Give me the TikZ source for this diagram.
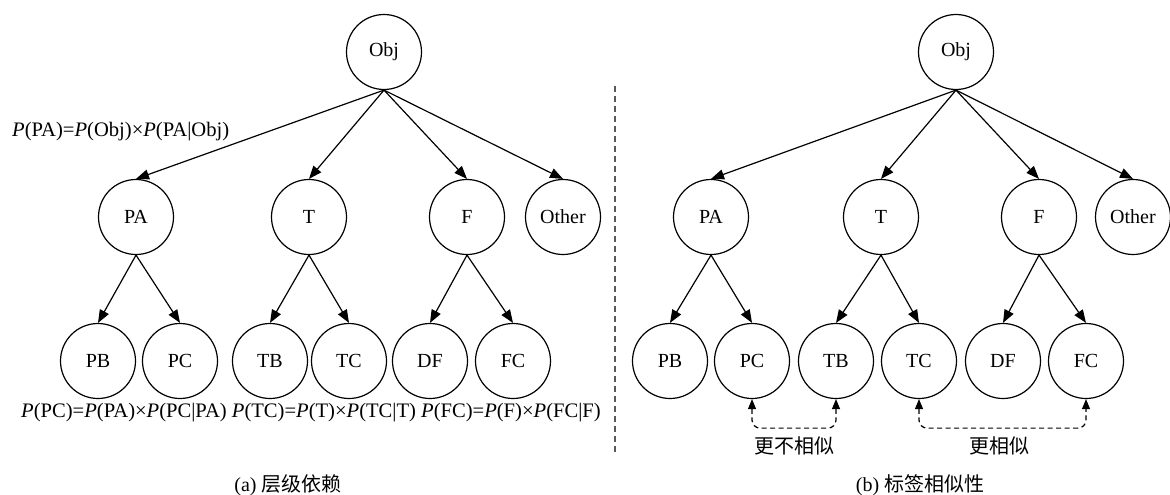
\documentclass[tikz,border=0pt]{standalone}
\usepackage{fontspec}
\setmainfont{Liberation Serif}
\newfontfamily\cjk{Noto Sans CJK SC}
\usetikzlibrary{arrows.meta}
\begin{document}
\begin{tikzpicture}[x=1pt,y=-1pt,
  nd/.style={circle,draw,line width=1.2pt,minimum size=75pt,inner sep=0pt,font=\fontsize{20}{24}\selectfont},
  edge/.style={line width=1.2pt,-{Triangle[length=13pt,width=10pt]}},
  sim/.style={line width=1.2pt,dash pattern=on 5pt off 3.5pt,rounded corners=8pt,{Triangle[length=10pt,width=8pt]}-{Triangle[length=10pt,width=8pt]}},
  lbl/.style={font=\fontsize{20}{24}\selectfont,inner sep=0pt},
  frm/.style={font=\fontsize{20.6}{24}\selectfont,inner sep=0pt},
  sep/.style={line width=1.5pt,black!65,dash pattern=on 6pt off 4pt}]
\useasboundingbox (0,0) rectangle (1170,495);
% left tree
\node[nd] (O1) at (384,52) {Obj};
\node[nd] (PA1) at (136,217) {PA};
\node[nd] (T1) at (309,217) {T};
\node[nd] (F1) at (467,217) {F};
\node[nd] (Ot1) at (563,217) {Other};
\node[nd] (PB1) at (98,361) {PB};
\node[nd] (PC1) at (180,361) {PC};
\node[nd] (TB1) at (270,361) {TB};
\node[nd] (TC1) at (349,361) {TC};
\node[nd] (DF1) at (430,361) {DF};
\node[nd] (FC1) at (513,361) {FC};
\foreach \c in {PA1,T1,F1,Ot1} \draw[edge] (O1.south) -- (\c.north);
\draw[edge] (PA1.south) -- (PB1.north);
\draw[edge] (PA1.south) -- (PC1.north);
\draw[edge] (T1.south) -- (TB1.north);
\draw[edge] (T1.south) -- (TC1.north);
\draw[edge] (F1.south) -- (DF1.north);
\draw[edge] (F1.south) -- (FC1.north);
\node[frm,anchor=west] (f1) at (12,132) {\textit{P}(PA)=\textit{P}(Obj)×\textit{P}(PA|Obj)};
\node[frm] (f2) at (311,413) {\textit{P}(PC)=\textit{P}(PA)×\textit{P}(PC|PA) \textit{P}(TC)=\textit{P}(T)×\textit{P}(TC|T) \textit{P}(FC)=\textit{P}(F)×\textit{P}(FC|F)};
\node[lbl] (ca) at (288,485) {(a) {\cjk 层级依赖}};
% separator
\coordinate (d1) at (615,86);
\coordinate (d2) at (615,454);
\draw[sep] (d1) -- (d2);
% right tree
\node[nd] (O2) at (956,52) {Obj};
\node[nd] (PA2) at (711,217) {PA};
\node[nd] (T2) at (881,217) {T};
\node[nd] (F2) at (1039,217) {F};
\node[nd] (Ot2) at (1133,217) {Other};
\node[nd] (PB2) at (670,361) {PB};
\node[nd] (PC2) at (752,361) {PC};
\node[nd] (TB2) at (836,361) {TB};
\node[nd] (TC2) at (919,361) {TC};
\node[nd] (DF2) at (1003,361) {DF};
\node[nd] (FC2) at (1086,361) {FC};
\foreach \c in {PA2,T2,F2,Ot2} \draw[edge] (O2.south) -- (\c.north);
\draw[edge] (PA2.south) -- (PB2.north);
\draw[edge] (PA2.south) -- (PC2.north);
\draw[edge] (T2.south) -- (TB2.north);
\draw[edge] (T2.south) -- (TC2.north);
\draw[edge] (F2.south) -- (DF2.north);
\draw[edge] (F2.south) -- (FC2.north);
\draw[sim] (PC2.south) -- ++(0,29) -| (TB2.south);
\draw[sim] (TC2.south) -- ++(0,29) -| (FC2.south);
\node[lbl] (s1) at (794,446) {\cjk 更不相似};
\node[lbl] (s2) at (999,446) {\cjk 更相似};
\node[lbl] (cb) at (920,485) {(b) {\cjk 标签相似性}};
\end{tikzpicture}
\end{document}
